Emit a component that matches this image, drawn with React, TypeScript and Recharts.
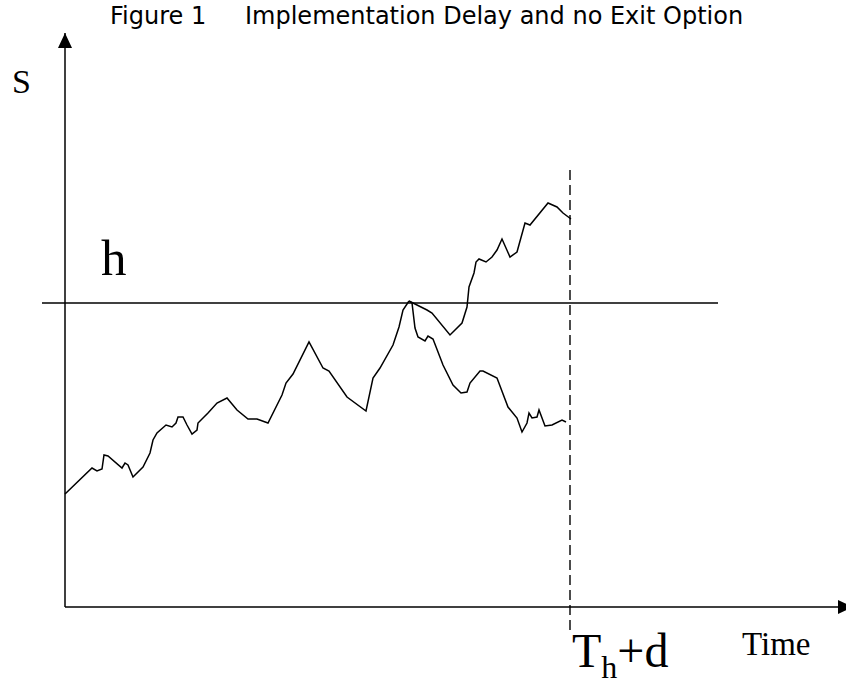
import React from 'react';
import { ComposedChart, Line, XAxis, YAxis, ReferenceLine, ReferenceDot } from 'recharts';

// sample path up to the first touch of the barrier h
const trunk = [
  [0, 113], [27, 139], [32, 136], [37, 138], [39, 152], [43, 151], [57, 139], [60, 144], [63, 142],
  [68, 130], [78, 140], [85, 154], [88, 167], [92, 174], [101, 182], [107, 180], [111, 184], [113, 190],
  [118, 190], [122, 182], [127, 173], [132, 177], [133, 184], [138, 189], [143, 194], [152, 204],
  [162, 209], [172, 197], [183, 188], [192, 188], [203, 184], [217, 212], [221, 224], [228, 233],
  [244, 265], [258, 239], [264, 236], [282, 210], [301, 196], [308, 229], [315, 239], [328, 262],
  [334, 280], [338, 297], [344, 306],
];

// branch that ends above h
const branchUp = [
  [344, 306], [362, 297], [367, 294], [385, 272], [397, 284], [402, 300], [404, 320], [409, 334],
  [411, 345], [414, 348], [421, 345], [427, 350], [432, 357], [437, 368], [445, 350], [452, 355],
  [460, 384], [465, 382], [483, 404], [492, 400], [498, 394], [506, 388],
];

// branch that ends below h
const branchDown = [
  [344, 306], [347, 304], [350, 279], [353, 270], [360, 266], [363, 271], [368, 268], [378, 242],
  [388, 222], [396, 214], [402, 215], [405, 224], [415, 236], [418, 236], [432, 229], [443, 200],
  [452, 189], [457, 175], [462, 184], [464, 194], [467, 189], [472, 190], [474, 197], [480, 181],
  [487, 182], [497, 187], [501, 185],
];

const H = 304;
const T_END = 505;

const toRows = (pts: number[][]) => pts.map(([t, s]) => ({ t, s }));

const arrowLine = (dir: 'up' | 'right') => (p: any) => {
  const { x1, y1, x2, y2 } = p;
  const head =
    dir === 'up'
      ? `${x2},${y2} ${x2 - 7},${y2 + 15} ${x2 + 7},${y2 + 15}`
      : `${x2},${y2} ${x2 - 15},${y2 - 7} ${x2 - 15},${y2 + 7}`;
  return (
    <g>
      <line x1={x1} y1={y1} x2={x2} y2={y2} stroke="#000" strokeWidth={1.5} />
      <polygon points={head} fill="#000" />
    </g>
  );
};

const textShape = (content: React.ReactNode, style: any) => (p: any) => (
  <text x={p.cx} y={p.cy} fill="#000" {...style}>
    {content}
  </text>
);

const serif = '"Liberation Serif", "Times New Roman", serif';
const sans = '"DejaVu Sans", sans-serif';

export default function App() {
  return (
    <div style={{ position: 'absolute', left: 0, top: 0, background: '#fff' }}>
      <ComposedChart width={846} height={685} margin={{ top: 0, right: 0, bottom: 0, left: 0 }}>
        <XAxis type="number" dataKey="t" domain={[-65, 781]} hide allowDataOverflow />
        <YAxis type="number" domain={[-78, 607]} hide allowDataOverflow />

        <ReferenceLine segment={[{ x: 0, y: 0 }, { x: 0, y: 574 }]} ifOverflow="visible" shape={arrowLine('up')} />
        <ReferenceLine segment={[{ x: 0, y: 0 }, { x: 788, y: 0 }]} ifOverflow="visible" shape={arrowLine('right')} />
        <ReferenceLine segment={[{ x: -23, y: H }, { x: 653, y: H }]} ifOverflow="visible" stroke="#000" strokeWidth={1.5} />
        <ReferenceLine
          segment={[{ x: T_END, y: -23 }, { x: T_END, y: 442 }]}
          ifOverflow="visible"
          stroke="#000"
          strokeWidth={1.4}
          strokeDasharray="10 5"
        />

        <Line data={toRows(trunk)} dataKey="s" type="linear" stroke="#000" strokeWidth={1.5} dot={false} activeDot={false} isAnimationActive={false} />
        <Line data={toRows(branchUp)} dataKey="s" type="linear" stroke="#000" strokeWidth={1.5} dot={false} activeDot={false} isAnimationActive={false} />
        <Line data={toRows(branchDown)} dataKey="s" type="linear" stroke="#000" strokeWidth={1.5} dot={false} activeDot={false} isAnimationActive={false} />

        <ReferenceDot x={45} y={583} r={0} ifOverflow="visible" shape={textShape('Figure 1', { fontSize: 24, fontFamily: sans })} />
        <ReferenceDot
          x={180}
          y={583}
          r={0}
          ifOverflow="visible"
          shape={textShape('Implementation Delay and no Exit Option', { fontSize: 24, fontFamily: sans })}
        />
        <ReferenceDot x={-53} y={514} r={0} ifOverflow="visible" shape={textShape('S', { fontSize: 34, fontFamily: serif })} />
        <ReferenceDot x={36} y={332} r={0} ifOverflow="visible" shape={textShape('h', { fontSize: 51, fontFamily: serif })} />
        <ReferenceDot
          x={507}
          y={-60}
          r={0}
          ifOverflow="visible"
          shape={textShape(
            <>
              T<tspan fontSize={32} dy={11}>h</tspan>
              <tspan dy={-11}>+d</tspan>
            </>,
            { fontSize: 48, fontFamily: serif }
          )}
        />
        <ReferenceDot x={677} y={-48} r={0} ifOverflow="visible" shape={textShape('Time', { fontSize: 33, fontFamily: serif })} />
      </ComposedChart>
    </div>
  );
}
